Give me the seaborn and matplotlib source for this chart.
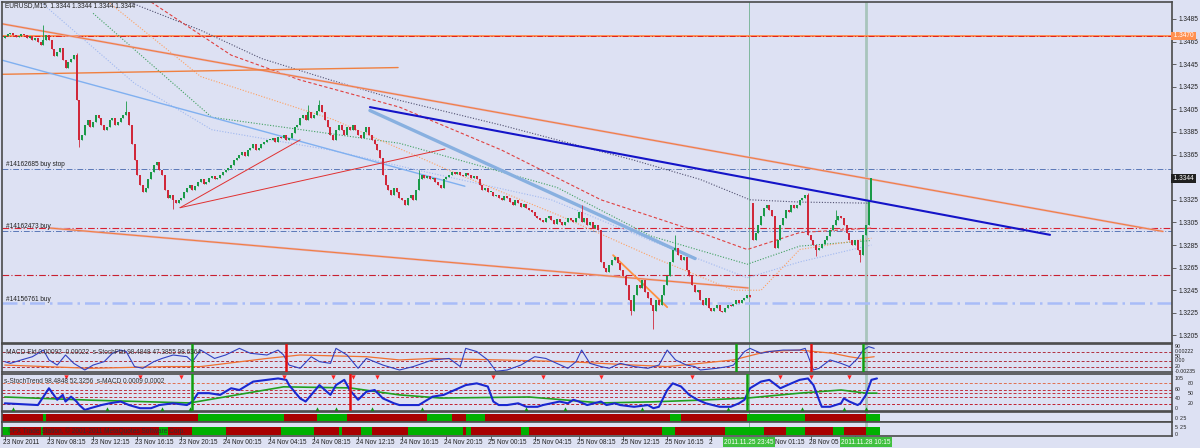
import matplotlib
matplotlib.use("Agg")
import matplotlib.pyplot as plt
import matplotlib.transforms as mtransforms
import numpy as np
import pandas as pd
import seaborn as sns

# --- Datos (EURUSD M15, barra 0 = 23 Nov 2011 04:15) ---
closes = [
    1.3470, 1.3472, 1.3473, 1.3471, 1.3469, 1.3470, 1.3472, 1.3471, 1.3468, 1.3470, 1.3466, 1.3468, 1.3465, 1.3462, 1.3466, 1.3471,
    1.3466, 1.3458, 1.3452, 1.3456, 1.3459, 1.3449, 1.3442, 1.3447, 1.3450, 1.3453, 1.3413, 1.3378, 1.3382, 1.3391, 1.3396, 1.3389,
    1.3394, 1.3400, 1.3397, 1.3391, 1.3387, 1.3389, 1.3396, 1.3397, 1.3391, 1.3394, 1.3397, 1.3400, 1.3403, 1.3391, 1.3374, 1.3360,
    1.3347, 1.3338, 1.3332, 1.3335, 1.3343, 1.3350, 1.3356, 1.3358, 1.3351, 1.3347, 1.3334, 1.3327, 1.3329, 1.3325, 1.3322, 1.3325,
    1.3327, 1.3332, 1.3335, 1.3338, 1.3334, 1.3337, 1.3341, 1.3343, 1.3339, 1.3341, 1.3344, 1.3346, 1.3343, 1.3344, 1.3347, 1.3350,
    1.3351, 1.3353, 1.3356, 1.3360, 1.3362, 1.3365, 1.3367, 1.3364, 1.3369, 1.3371, 1.3374, 1.3369, 1.3371, 1.3374, 1.3376, 1.3378,
    1.3378, 1.3380, 1.3376, 1.3381, 1.3380, 1.3382, 1.3378, 1.3380, 1.3384, 1.3389, 1.3391, 1.3397, 1.3400, 1.3396, 1.3403, 1.3397,
    1.3400, 1.3404, 1.3409, 1.3403, 1.3396, 1.3389, 1.3382, 1.3378, 1.3387, 1.3391, 1.3387, 1.3382, 1.3389, 1.3387, 1.3391, 1.3387,
    1.3382, 1.3380, 1.3385, 1.3389, 1.3382, 1.3378, 1.3374, 1.3369, 1.3362, 1.3347, 1.3338, 1.3334, 1.3329, 1.3335, 1.3332, 1.3327,
    1.3325, 1.3320, 1.3327, 1.3329, 1.3325, 1.3334, 1.3343, 1.3347, 1.3344, 1.3346, 1.3343, 1.3344, 1.3341, 1.3338, 1.3335, 1.3343,
    1.3345, 1.3347, 1.3350, 1.3348, 1.3350, 1.3347, 1.3346, 1.3349, 1.3347, 1.3344, 1.3346, 1.3343, 1.3338, 1.3334, 1.3335, 1.3332,
    1.3332, 1.3328, 1.3329, 1.3327, 1.3325, 1.3328, 1.3327, 1.3323, 1.3320, 1.3325, 1.3322, 1.3319, 1.3321, 1.3318, 1.3316, 1.3314,
    1.3311, 1.3309, 1.3307, 1.3305, 1.3309, 1.3311, 1.3307, 1.3304, 1.3308, 1.3305, 1.3303, 1.3305, 1.3309, 1.3307, 1.3305, 1.3309,
    1.3314, 1.3305, 1.3309, 1.3303, 1.3305, 1.3300, 1.3303, 1.3298, 1.3270, 1.3265, 1.3261, 1.3267, 1.3272, 1.3274, 1.3269, 1.3263,
    1.3258, 1.3250, 1.3236, 1.3227, 1.3241, 1.3250, 1.3247, 1.3254, 1.3243, 1.3238, 1.3232, 1.3227, 1.3236, 1.3232, 1.3241, 1.3250,
    1.3258, 1.3270, 1.3281, 1.3282, 1.3276, 1.3272, 1.3274, 1.3263, 1.3258, 1.3250, 1.3243, 1.3245, 1.3236, 1.3232, 1.3238, 1.3229,
    1.3227, 1.3229, 1.3232, 1.3227, 1.3226, 1.3229, 1.3232, 1.3231, 1.3233, 1.3236, 1.3234, 1.3236, 1.3238, 1.3241, 1.3239,
    1.3289, 1.3296, 1.3303, 1.3311, 1.3318, 1.3320, 1.3316, 1.3311, 1.3282, 1.3289, 1.3303, 1.3309, 1.3316, 1.3314, 1.3320, 1.3318,
    1.3320, 1.3325, 1.3327, 1.3329, 1.3294, 1.3289, 1.3285, 1.3281, 1.3282, 1.3286, 1.3289, 1.3293, 1.3298, 1.3303, 1.3307, 1.3311,
    1.3309, 1.3303, 1.3296, 1.3289, 1.3285, 1.3289, 1.3281, 1.3276, 1.3294, 1.3303, 1.3325, 1.3344,
]
first_open = 1.3468
gap_index = 271          # primera barra del lunes 28 Nov
gap_open = 1.3322
wick_highs = {14: 1.3480, 26: 1.3455, 44: 1.3412, 110: 1.3409, 114: 1.3413, 150: 1.3351,
              209: 1.3320, 243: 1.3294, 291: 1.3331, 301: 1.3316}
wick_lows = {27: 1.3372, 61: 1.3317, 227: 1.3223, 235: 1.3211, 294: 1.3275, 310: 1.3270}

# niveles de órdenes
level_tp = 1.3470
level_buystop = 1.3352
level_red1 = 1.3300
level_buy1 = 1.3297
level_red2 = 1.32585
level_buy2 = 1.3234

# líneas de tendencia: (idx0, precio0, idx1, precio1)
tl_orange_long = (-1.7, 1.3481, 419.6, 1.3297)
tl_orange_flat = (-1.7, 1.3436, 142.5, 1.3442)
tl_orange_low = (16.4, 1.3300, 269.3, 1.3247)
tl_navy = (132.3, 1.3407, 378.7, 1.3294)
tl_lblue_thick = (132.3, 1.3404, 250.1, 1.3273)
tl_lblue_thin = (-1.7, 1.3449, 166.7, 1.3337)
tl_red_a = (63.5, 1.3318, 107.0, 1.3378)
tl_red_b = (63.5, 1.3318, 159.5, 1.3370)
tl_orange_short = (220.4, 1.3276, 240.0, 1.3230)

# medias móviles (puntos leídos)
ma1_idx = [45, 71, 93, 118, 143, 180, 228, 252, 270, 288, 314]
ma1_val = [1.3500, 1.3475, 1.3450, 1.3431, 1.3413, 1.3391, 1.3360, 1.3343, 1.3325, 1.3323, 1.3322]
ma2_idx = [53, 82, 107, 143, 180, 216, 252, 269, 288, 314]
ma2_val = [1.3500, 1.3453, 1.3431, 1.3407, 1.3369, 1.3325, 1.3296, 1.3281, 1.3296, 1.3300]
ma3_idx = [32, 75, 143, 200, 234, 269, 288, 314]
ma3_val = [1.3490, 1.3398, 1.3375, 1.3336, 1.3293, 1.3268, 1.3284, 1.3289]
ma4_idx = [13, 47, 75, 118, 150, 198, 234, 269, 288, 314]
ma4_val = [1.3500, 1.3428, 1.3387, 1.3369, 1.3351, 1.3325, 1.3289, 1.3256, 1.3270, 1.3285]
ma5_idx = [38, 71, 119, 161, 201, 235, 264, 274, 288, 314]
ma5_val = [1.3499, 1.3434, 1.3396, 1.3351, 1.3311, 1.3274, 1.3245, 1.3245, 1.3281, 1.3291]

# panel MACD-Eld / s-StochFlat
flat_idx = [0, 2, 6, 10, 14, 16, 19, 22, 25, 29, 32, 36, 39, 42, 44, 47, 50, 54, 57, 61, 66, 68, 71, 76, 80, 85, 89, 95,
            99, 101, 103, 107, 111, 114, 118, 120, 124, 128, 131, 137, 143, 148, 155, 161, 165, 167, 171, 175, 178, 182,
            187, 192, 196, 200, 204, 207, 209, 212, 216, 219, 223, 228, 233, 237, 240, 243, 247, 250, 252, 258, 262, 264,
            268, 270, 274, 277, 282, 288, 290, 293, 295, 299, 303, 306, 309, 311, 313, 315]
flat_val = [45, 37, 53, 68, 99, 53, 29, 76, 37, 6, 29, 45, 84, 99, 92, 22, 14, 45, 60, 76, 68, 45, 99, 60, 76, 107, 84, 76,
            99, 76, 29, 14, 68, 45, 37, 107, 76, 14, 60, 29, 6, 22, 53, 60, 22, 107, 92, 53, 0, 6,
            29, 68, 60, 37, 14, 45, 99, 37, 22, 14, 37, 22, 14, 29, 99, 53, 29, 22, 6, 14, 22, 29,
            92, 107, 84, 92, 99, 99, 107, 6, 14, 53, 37, 22, 60, 99, 115, 107]
eld_idx = [0, 31, 59, 71, 95, 107, 131, 143, 155, 179, 204, 228, 240, 252, 264, 276, 288, 300, 306, 310, 315]
eld_val = [29, 14, 22, 22, 60, 76, 68, 53, 60, 53, 45, 29, 22, 37, 53, 92, 99, 84, 68, 60, 68]
macd_green_bars = [68, 265, 311]
macd_red_bars = [102, 292]

# panel s-StochTrend
stoch_idx = [0, 12, 16, 19, 21, 22, 24, 26, 27, 29, 31, 35, 38, 42, 45, 49, 53, 56, 61, 66, 68, 70, 74, 78, 82, 85, 90,
             95, 99, 102, 103, 107, 109, 114, 118, 120, 123, 125, 128, 131, 134, 137, 141, 143, 150, 155, 159, 163, 167,
             171, 175, 177, 179, 182, 186, 189, 193, 195, 201, 204, 206, 208, 211, 216, 218, 221, 223, 228, 233, 235, 237,
             240, 242, 245, 248, 251, 254, 259, 263, 266, 268, 270, 274, 277, 281, 285, 288, 291, 293, 295, 296, 299, 303,
             304, 306, 309, 310, 312, 314, 316]
stoch_val = [22, 17, 65, 32, 46, 27, 41, 27, 17, 3, 8, 17, 22, 27, 17, 8, 8, 17, 22, 17, 27, 51, 51, 46, 65, 60, 84,
             89, 93, 89, 74, 36, 27, 74, 46, 74, 89, 60, 32, 55, 60, 36, 22, 17, 17, 41, 46, 60, 74,
             79, 70, 27, 17, 17, 22, 12, 12, 17, 27, 22, 32, 27, 17, 27, 17, 22, 17, 12, 17, 8, 12,
             60, 79, 70, 46, 32, 22, 12, 12, 22, 32, 65, 84, 89, 65, 79, 89, 93, 74, 32, 12, 12, 22,
             36, 27, 17, 22, 46, 89, 93]
trend_idx = [0, 31, 67, 101, 125, 143, 158, 190, 216, 234, 252, 269, 288, 303, 312, 316]
trend_val = [40, 31, 23, 69, 66, 46, 37, 40, 23, 26, 31, 37, 51, 60, 51, 51]
stoch_green_bars = [68, 269]
stoch_red_bars = [125]
arrows_down = [22, 49, 64, 101, 119, 126, 135, 177, 195, 216, 249, 281, 292, 306]
arrows_up = [3, 37, 57, 67, 113, 120, 133, 151, 189, 203, 231, 262, 289, 304, 312]

# paneles de barras (bordes de tramos y estado)
bar1_edges = [-1, 14, 15, 70, 101, 113, 124, 153, 162, 167, 174, 241, 245, 269, 290, 312, 317]
bar1_state = ['dn', 'up', 'dn', 'up', 'dn', 'up', 'dn', 'up', 'dn', 'up', 'dn', 'up', 'dn', 'up', 'dn', 'up']
bar2_edges = [-1, 2, 13, 14, 56, 59, 68, 80, 100, 112, 121, 122, 129, 133, 146, 166, 167, 169, 187, 190, 238, 243,
              261, 275, 283, 290, 300, 304, 312, 317]
bar2_state = ['up', 'dn', 'up', 'dn', 'up', 'dn', 'up', 'dn', 'up', 'dn', 'up', 'dn', 'up', 'dn', 'up', 'dn', 'up',
              'dn', 'up', 'dn', 'up', 'dn', 'up', 'dn', 'up', 'dn', 'up', 'dn', 'up']

# etiquetas de tiempo (las tapadas por las cajas verdes sólo muestran el trozo visible)
time_idx = [0, 16, 32, 48, 64, 80, 96, 112, 128, 144, 160, 176, 192, 208, 224, 240, 256, 280, 292]
time_labels = ['23 Nov 2011', '23 Nov 08:15', '23 Nov 12:15', '23 Nov 16:15', '23 Nov 20:15', '24 Nov 00:15',
               '24 Nov 04:15', '24 Nov 08:15', '24 Nov 12:15', '24 Nov 16:15', '24 Nov 20:15', '25 Nov 00:15',
               '25 Nov 04:15', '25 Nov 08:15', '25 Nov 12:15', '25 Nov 16:15', '2', 'Nov 01:15', '28 Nov 05']
tick_idx = [0, 16, 32, 48, 64, 80, 96, 112, 128, 144, 160, 176, 192, 208, 224, 240, 256, 276, 292, 308]
price_ticks = [1.3485, 1.3465, 1.3445, 1.3425, 1.3405, 1.3385, 1.3365, 1.3345, 1.3325, 1.3305, 1.3285,
               1.3265, 1.3245, 1.3225, 1.3205]
vline_thin = 269.6
vline_thick = 312

# --- Estilo ---
sns.set_style("white")
plt.rcParams['font.family'] = ['Liberation Sans', 'DejaVu Sans']
BG = '#dde1f3'
GREEN_C = '#1a9a48'
RED_C = '#d0283a'
SPINE = '#4a4a4a'
W, H = 1200, 448
XLIM = (-1.01, 422.9)
FS = 4.7


def px_rect(x0, y0, x1, y1):
    return [x0 / W, 1 - y1 / H, (x1 - x0) / W, (y1 - y0) / H]


def style_ax(ax, lw=1.2):
    ax.set_facecolor(BG)
    ax.set_xlim(*XLIM)
    ax.set_xticks([])
    ax.set_yticks([])
    for s in ax.spines.values():
        s.set_color(SPINE)
        s.set_linewidth(lw)


def seg(ax, line, **kw):
    x0, y0, x1, y1 = line
    sns.lineplot(x=[x0, x1], y=[y0, y1], ax=ax, legend=False, estimator=None, **kw)


fig = plt.figure(figsize=(12, 4.48), dpi=100, facecolor=BG)
ax = fig.add_axes(px_rect(2, 2, 1172, 343))
ax_m = fig.add_axes(px_rect(2, 344, 1172, 372))
ax_s = fig.add_axes(px_rect(2, 374, 1172, 411))
ax_b1 = fig.add_axes(px_rect(2, 412, 1172, 422))
ax_b2 = fig.add_axes(px_rect(2, 422, 1172, 436))
for a in (ax, ax_m, ax_s, ax_b1, ax_b2):
    style_ax(a)
ax.set_ylim(1.31983, 1.35000)

# --- Panel principal ---
dd = (0, (6, 2, 1, 2))
ax.axhline(level_tp, color='#ff8a4a', lw=1.3, zorder=2)
ax.axhline(level_tp, color='#e02020', lw=0.7, ls=dd, zorder=2)
ax.axhline(level_buystop, color='#5a78b8', lw=0.7, ls=dd, zorder=2)
ax.axhline(level_red1, color='#d82030', lw=0.8, ls=dd, zorder=2)
ax.axhline(level_buy1, color='#5a78b8', lw=0.7, ls=dd, zorder=2)
ax.axhline(level_red2, color='#c82030', lw=0.8, ls=dd, zorder=2)
ax.axhline(level_buy2, color='#a8bcf8', lw=1.8, ls=dd, zorder=2)

for a in (ax, ax_m, ax_s, ax_b1, ax_b2):
    a.axvline(vline_thin, color='#70b090', lw=0.6, zorder=1)
    a.axvline(vline_thick, color='#a8c4bc', lw=2.0, zorder=1)

# medias móviles
sns.lineplot(x=ma1_idx, y=ma1_val, ax=ax, color='#505070', lw=0.8, ls=(0, (1, 1.5)), legend=False, estimator=None)
sns.lineplot(x=ma2_idx, y=ma2_val, ax=ax, color='#e04040', lw=0.8, ls=(0, (3, 2)), legend=False, estimator=None)
sns.lineplot(x=ma3_idx, y=ma3_val, ax=ax, color='#40a060', lw=0.8, ls=(0, (1, 1.5)), legend=False, estimator=None)
sns.lineplot(x=ma4_idx, y=ma4_val, ax=ax, color='#a0b8f0', lw=0.8, ls=(0, (1, 1.5)), legend=False, estimator=None)
sns.lineplot(x=ma5_idx, y=ma5_val, ax=ax, color='#ffa060', lw=0.8, ls=(0, (1, 1.5)), legend=False, estimator=None)

# líneas de tendencia
seg(ax, tl_orange_long, color='#e4b4c4', lw=1.6)
seg(ax, tl_orange_long, color='#f08040', lw=0.8)
seg(ax, tl_orange_flat, color='#f08040', lw=1.0)
seg(ax, tl_orange_low, color='#e4b4c4', lw=1.6)
seg(ax, tl_orange_low, color='#f08040', lw=0.8)
seg(ax, tl_lblue_thin, color='#80b0f0', lw=1.0)
seg(ax, tl_lblue_thick, color='#88b0e0', lw=2.4)
seg(ax, tl_red_a, color='#e03030', lw=0.7)
seg(ax, tl_red_b, color='#e03030', lw=0.7)
seg(ax, tl_orange_short, color='#ff9040', lw=1.3)

# velas
df = pd.DataFrame({'close': closes})
df['open'] = df['close'].shift(1)
df.loc[0, 'open'] = first_open
df.loc[gap_index, 'open'] = gap_open
df['high'] = df[['open', 'close']].max(axis=1)
df['low'] = df[['open', 'close']].min(axis=1)
for k, v in wick_highs.items():
    df.loc[k, 'high'] = v
for k, v in wick_lows.items():
    df.loc[k, 'low'] = v
up = df['close'] >= df['open']
for mask, col in [(up, GREEN_C), (~up, RED_C)]:
    d = df[mask]
    ax.vlines(d.index, d['low'], d['high'], color=col, lw=0.6, zorder=4)
    ax.bar(d.index, (d['close'] - d['open']).abs().clip(lower=0.00005),
           bottom=d[['open', 'close']].min(axis=1), width=0.72, color=col, lw=0, zorder=4)

seg(ax, tl_navy, color='#1414c8', lw=1.5, zorder=5)

# eje de precios (la etiqueta 1.3345 queda bajo la caja del precio actual)
ax.yaxis.tick_right()
ax.set_yticks(price_ticks)
ax.set_yticklabels(['' if p == 1.3345 else f"{p:.4f}" for p in price_ticks])
ax.tick_params(axis='y', right=True, length=3, width=0.6, color=SPINE, labelsize=FS, pad=2, labelcolor='#202020')

ax.text(1.0, level_tp, ' 1.3470 ', transform=ax.get_yaxis_transform(), fontsize=FS, color='white',
        va='center', ha='left', zorder=10, bbox=dict(boxstyle='square,pad=0.12', fc='#ff9050', ec='none'))
ax.text(1.0, closes[-1], ' 1.3344 ', transform=ax.get_yaxis_transform(), fontsize=FS, color='white',
        va='center', ha='left', zorder=10, bbox=dict(boxstyle='square,pad=0.15', fc='#202020', ec='none'))

fig.text(5 / W, 1 - 6 / H, 'EURUSD,M15  1.3344 1.3344 1.3344 1.3344', fontsize=FS, color='#202020', va='center')
fig.text(6 / W, 1 - 165 / H, '#14162685 buy stop', fontsize=FS, color='#202020', va='center')
fig.text(6 / W, 1 - 226 / H, '#14162473 buy', fontsize=FS, color='#202020', va='center')
fig.text(6 / W, 1 - 299 / H, '#14156761 buy', fontsize=FS, color='#202020', va='center')

# --- Panel MACD-Eld / StochFlat ---
ax_m.set_ylim(-3.3, 127.3)
for lv in (90, 50, 20):
    ax_m.axhline(lv, color='#b03040', lw=0.7, ls=(0, (3, 2)))
sns.lineplot(x=eld_idx, y=eld_val, ax=ax_m, color='#f07030', lw=0.9, legend=False, estimator=None)
sns.lineplot(x=flat_idx, y=flat_val, ax=ax_m, color='#3040c0', lw=0.8, legend=False, estimator=None)
for i in macd_green_bars:
    ax_m.axvline(i, color='#10a010', lw=1.8, zorder=6)
for i in macd_red_bars:
    ax_m.axvline(i, color='#e01010', lw=1.8, zorder=6)
fig.text(4 / W, 1 - 352 / H, '-MACD-Eld 0.00092 -0.00022  s-StochFlat 98.4848 47.3855 98.6364',
         fontsize=FS, color='#303030', va='center')

# --- Panel StochTrend ---
ax_s.set_ylim(0, 105.7)
for lv, col in [(80, '#e07050'), (60, '#c03040'), (50, '#c03040'), (40, '#c03040'), (20, '#c02030')]:
    ax_s.axhline(lv, color=col, lw=0.7, ls=(0, (3, 2)))
sns.lineplot(x=trend_idx, y=trend_val, ax=ax_s, color='#20a020', lw=1.2, legend=False, estimator=None)
sns.lineplot(x=stoch_idx, y=stoch_val, ax=ax_s, color='#1a28d0', lw=1.5, legend=False, estimator=None)
for i in stoch_green_bars:
    ax_s.axvline(i, color='#10a010', lw=1.8, zorder=6)
for i in stoch_red_bars:
    ax_s.axvline(i, color='#e01010', lw=1.8, zorder=6)
sns.scatterplot(x=arrows_down, y=[97] * len(arrows_down), ax=ax_s, marker='v', color='#ff2020',
                s=10, linewidth=0, legend=False, zorder=7)
sns.scatterplot(x=arrows_up, y=[6] * len(arrows_up), ax=ax_s, marker='^', color='#109010',
                s=10, linewidth=0, legend=False, zorder=7)
fig.text(4 / W, 1 - 381 / H, 's-StochTrend 98.4848 52.3256  s-MACD 0.0009 0.0002',
         fontsize=FS, color='#303030', va='center')

# --- Paneles de barras ---
STATE_COL = {'up': '#00b000', 'dn': '#a80000'}
ax_b1.set_ylim(-0.15, 1.3)
ax_b2.set_ylim(-0.125, 1.625)
for a, edges, states in [(ax_b1, bar1_edges, bar1_state), (ax_b2, bar2_edges, bar2_state)]:
    for s0, s1, st in zip(edges[:-1], edges[1:], states):
        a.broken_barh([(s0, s1 - s0)], (0, 1), facecolors=STATE_COL[st], lw=0)
fig.text(8 / W, 1 - 431 / H, '\u00a9FX Trade Station, \u00a9 2001-2011 MetaQuotes Software Corp.',
         fontsize=FS, color='#303030', va='center')

# etiquetas de la derecha para indicadores
for x, y, t in [(1175, 346, '90'), (1175, 351, '0.00222'), (1175, 356, '50'), (1175, 361, '0.00'),
                (1175, 366, '20'), (1175, 371, '-0.00235'),
                (1175, 378, '105'), (1188, 383, '80'), (1175, 389, '60'), (1188, 393, '50'),
                (1175, 398, '40'), (1188, 403, '20'), (1175, 408, '0'),
                (1175, 418, '0'), (1180, 418, '2.5'), (1175, 427, '5'), (1180, 427, '2.5'), (1175, 434, '0')]:
    fig.text(x / W, 1 - y / H, t, fontsize=3.8, color='#202020', va='center')

# --- Eje de tiempo ---
ax_b2.set_xticks(tick_idx)
ax_b2.set_xticklabels([])
ax_b2.tick_params(axis='x', bottom=True, length=3, width=0.6, color=SPINE)
tr = mtransforms.blended_transform_factory(ax_b2.transData, fig.transFigure)
for i, lab in zip(time_idx, time_labels):
    ax_b2.text(i - 0.8, 1 - 442 / H, lab, transform=tr, fontsize=FS, color='#202020', va='center', ha='left',
               clip_on=False)
for i, lab in [(vline_thin, '2011.11.25 23:45'), (vline_thick, '2011.11.28 10:15')]:
    ax_b2.text(i, 1 - 442 / H, lab, transform=tr, fontsize=FS, color='white', va='center', ha='center',
               clip_on=False, zorder=10, bbox=dict(boxstyle='square,pad=0.2', fc='#40c040', ec='none'))

fig.savefig('out.png', dpi=100, facecolor=BG)
